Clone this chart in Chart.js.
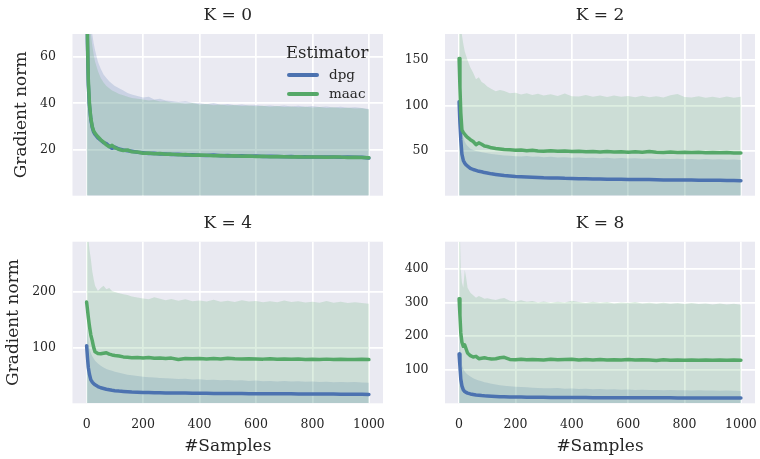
<!DOCTYPE html>
<html>
<head>
<meta charset="utf-8">
<script src="https://cdn.jsdelivr.net/npm/chart.js@4.4.1/dist/chart.umd.min.js"></script>
<style>
  body { margin: 0; background: #fff; }
  #wrap { position: relative; width: 760px; height: 459px; font-family: 'DejaVu Serif', serif; color: #262626; }
  #wrap canvas { position: absolute; }
  .legend-title { position: absolute; left: 286px; top: 43px; font-size: 16.5px; line-height: 20px; }
  .legend-line { position: absolute; left: 287px; width: 32px; height: 4px; border-radius: 2px; }
  .legend-label { position: absolute; left: 329px; font-size: 13.5px; line-height: 16px; }
</style>
</head>
<body>
<div id="wrap">
  <canvas id="k0" width="390" height="205" style="left:0;top:0"></canvas>
  <canvas id="k2" width="370" height="205" style="left:390px;top:0"></canvas>
  <canvas id="k4" width="390" height="254" style="left:0;top:205px"></canvas>
  <canvas id="k8" width="370" height="254" style="left:390px;top:205px"></canvas>

  <div class="legend-title">Estimator</div>
  <div class="legend-line" style="top:73px;background:#4C72B0"></div>
  <div class="legend-label" style="top:66px">dpg</div>
  <div class="legend-line" style="top:92px;background:#55A868"></div>
  <div class="legend-label" style="top:85px">maac</div>
</div>
<script>
// x positions (number of samples) shared by all series
var samples = [0, 3, 6, 10, 15, 20, 25, 30,
  40, 50, 60, 70, 80, 90, 100,
  115, 130, 145, 160,
  180, 200, 220, 240, 260, 280, 300,
  325, 350, 375, 400, 425, 450, 475, 500, 525, 550, 575, 600, 625, 650,
  675, 700, 725, 750, 775, 800, 825, 850, 875, 900, 925, 950, 975, 1000];
var xTicks = [0, 200, 400, 600, 800, 1000];

// K = 0
var k0DpgMean = [105, 66, 48, 39, 33, 29.5, 27.5, 26.5,
  25, 24, 23, 22.5, 21.5, 20.5, 21,
  20.2, 19.8, 19.5, 19.2,
  18.8, 18.6, 18.3, 18.4, 18.0, 18.1, 17.8,
  17.9, 17.6, 17.7, 17.5, 17.4, 17.6, 17.3, 17.4, 17.2, 17.3, 17.1, 17.2, 17.0, 17.1,
  17.0, 16.9, 17.0, 16.8, 16.9, 16.8, 16.7, 16.8, 16.7, 16.6, 16.7, 16.6, 16.6, 16.3];
var k0MaacMean = [110, 68, 50, 40, 33.5, 30, 28, 27,
  25.5, 24.2, 23.2, 22, 21.2, 21.8, 20.8,
  20.0, 19.6, 19.8, 19.0,
  18.9, 18.4, 18.5, 18.2, 18.3, 17.9, 18.0,
  17.7, 17.8, 17.5, 17.6, 17.5, 17.3, 17.4, 17.2, 17.3, 17.1, 17.2, 17.0, 17.1, 16.9,
  17.0, 16.9, 16.8, 16.9, 16.7, 16.8, 16.8, 16.6, 16.7, 16.7, 16.5, 16.6, 16.5, 16.4];
var k0DpgUpper = [160, 120, 100, 88, 78, 70, 66, 63,
  58, 55, 52.5, 51, 49.5, 48.5, 47.5,
  46.5, 45.5, 44.5, 43.8,
  43.2, 42.5, 42.8, 41.6, 42.0, 41.2, 41.0,
  40.6, 40.9, 40.2, 40.0, 39.6, 40.1, 39.4, 39.7, 39.2, 39.5, 39.0, 39.3, 38.8, 39.1,
  38.7, 39.0, 38.6, 38.9, 38.5, 38.8, 38.4, 38.6, 38.2, 38.5, 38.1, 38.3, 38.0, 37.5];
var k0MaacUpper = [150, 110, 92, 80, 70, 65, 61, 58,
  54, 51, 49, 47.5, 46.5, 45.5, 45,
  44, 43.5, 42.8, 42.3,
  42.0, 41.6, 41.2, 41.4, 40.8, 40.9, 40.4,
  40.2, 39.8, 40.1, 39.5, 39.7, 39.2, 39.5, 39.0, 39.3, 38.8, 39.1, 38.7, 38.9, 38.5,
  38.8, 38.4, 38.6, 38.3, 38.5, 38.2, 38.4, 38.0, 38.3, 37.9, 38.1, 37.8, 37.9, 37.3];

// K = 2
var k2DpgMean = [104, 80, 62, 46, 39, 36, 34, 32.8,
  30.3, 29, 28, 27, 26.5, 25.6, 25.2,
  24.2, 23.5, 22.9, 22.3,
  21.7, 21.2, 20.9, 20.6, 20.4, 20.1, 19.8,
  19.6, 19.5, 19.2, 19.1, 18.9, 18.8, 18.6, 18.5, 18.3, 18.2, 18.1, 18.0, 17.9, 17.8,
  17.8, 17.6, 17.5, 17.5, 17.4, 17.3, 17.3, 17.2, 17.1, 17.1, 17.0, 16.9, 16.9, 16.6];
var k2MaacMean = [152, 120, 92, 73, 70, 68, 66, 64.5,
  62, 60, 56.5, 58.5, 57, 55, 54.5,
  53, 52.3, 51.8, 51.2,
  50.8, 50.3, 50.6, 49.8, 50.2, 49.6, 49.3,
  49.7, 49.1, 49.4, 48.8, 49.2, 48.7, 49.0, 48.5, 48.8, 48.3, 48.7, 48.2, 48.6, 48.1,
  48.9, 48.2, 47.9, 48.4, 47.8, 48.1, 47.7, 48.0, 47.6, 47.9, 47.5, 47.8, 47.4, 47.3];
var k2DpgUpper = [150, 120, 95, 75, 65, 60, 57, 55,
  52, 50.5, 49.5, 48.8, 48, 47.5, 47,
  46.2, 45.6, 45, 44.6,
  44.2, 43.8, 43.5, 43.9, 43.0, 43.4, 42.6,
  43.0, 42.3, 42.7, 42.0, 42.4, 41.8, 42.1, 41.5, 41.9, 41.3, 41.6, 41.1, 41.4, 40.9,
  41.2, 40.7, 41.0, 40.5, 40.8, 40.4, 40.7, 40.2, 40.5, 40.1, 40.3, 39.9, 40.2, 39.5];
var k2MaacUpper = [260, 230, 200, 178, 168, 160, 155, 150,
  142, 136, 129, 131, 126, 124, 121,
  118, 115.5, 117, 116,
  113.5, 114, 112, 113.5, 111.5, 112.8, 110.8,
  112.2, 110.5, 113, 110.2, 109.8, 111.5, 109.5, 110.8, 109.2, 111.0, 109.4, 110.3, 108.9, 110.6,
  109.1, 110.0, 108.7, 111.2, 112.5, 109.3, 108.6, 110.1, 108.4, 109.5, 108.2, 109.8, 108.5, 109.6];

// K = 4
var k4DpgMean = [103, 82, 64, 52, 42, 38, 35, 33,
  30, 27.8, 26.5, 25.2, 24.2, 23.3, 22.6,
  21.8, 21.2, 20.7, 20.2,
  19.8, 19.5, 19.2, 19.0, 18.8, 18.6, 18.5,
  18.3, 18.2, 18.0, 17.9, 17.8, 17.7, 17.6, 17.5, 17.5, 17.4, 17.3, 17.2, 17.2, 17.1,
  17.0, 17.0, 16.9, 16.8, 16.8, 16.7, 16.6, 16.6, 16.5, 16.4, 16.3, 16.2, 16.1, 15.8];
var k4MaacMean = [181, 168, 154, 138, 122, 112, 100, 92,
  89, 88.5, 89.5, 90.5, 88, 86.5, 85.5,
  84.5, 83, 82.2, 81.5,
  81.8, 81.0, 82.0, 80.6, 81.2, 80.2, 80.8,
  78.5, 80.3, 79.6, 80.0, 79.4, 80.2, 79.2, 80.5, 79.6, 79.1, 79.8, 79.3, 79.0, 79.7,
  78.8, 79.4, 78.7, 79.2, 78.5, 78.9, 78.4, 79.0, 78.3, 78.7, 78.5, 78.2, 78.6, 78.2];
var k4DpgUpper = [150, 130, 112, 98, 90, 84, 80, 76,
  71, 67, 64, 61.5, 59.5, 58, 56.5,
  54.5, 52.8, 51.2, 50,
  48.6, 47.5, 46.6, 46.0, 45.3, 44.8, 44.3,
  43.6, 43.9, 42.6, 43.0, 41.8, 42.3, 41.1, 41.6, 40.6, 41.0, 40.1, 40.6, 39.6, 40.0,
  39.2, 39.7, 38.8, 39.3, 38.5, 38.9, 38.1, 38.6, 37.8, 38.2, 37.5, 37.9, 37.1, 36.8];
var k4MaacUpper = [330, 310, 295, 275, 258, 236, 222, 210,
  201, 206, 210, 204, 206, 201, 199,
  197, 195, 193.5, 191,
  189, 187.5, 186, 189.5, 187, 184.5, 186.5,
  183.5, 186, 182.5, 184, 182, 185, 181.5, 183.5, 181, 184.5, 182, 183, 180.8, 182.6,
  180.5, 184, 181, 182.3, 180.2, 181.8, 179.8, 183, 180, 181.5, 179.5, 180.8, 179.2, 178];

// K = 8
var k8DpgMean = [147, 110, 72, 52, 40, 35, 32.5, 30.5,
  28, 26.5, 25, 24, 23, 22.3, 21.8,
  21.0, 20.4, 19.9, 19.5,
  19.1, 18.8, 18.5, 18.3, 18.1, 17.9, 17.7,
  17.6, 17.4, 17.3, 17.2, 17.1, 17.0, 16.9, 16.8, 16.7, 16.7, 16.6, 16.5, 16.5, 16.4,
  16.3, 16.3, 16.2, 16.2, 16.1, 16.0, 16.0, 15.9, 15.9, 15.8, 15.8, 15.7, 15.7, 15.5];
var k8MaacMean = [312, 262, 210, 182, 170, 174, 162, 150,
  142, 138, 140, 133, 134.5, 136, 134,
  132, 133, 136, 137,
  131, 130, 131.5, 129.8, 131, 130.2, 129.5,
  131.2, 129.8, 130.5, 131.5, 129.2, 130.6, 129.5, 130.8, 129.0, 130.2, 129.4, 130.5, 128.8, 129.9,
  129.1, 127.8, 129.6, 128.7, 129.5, 128.5, 129.2, 128.4, 129.3, 128.6, 128.9, 128.2, 129.0, 128.3];
var k8DpgUpper = [220, 180, 140, 115, 102, 95, 90, 86,
  80, 75, 71, 68, 65.5, 63, 61,
  58.5, 56, 54, 52.5,
  51, 49.5, 48.3, 47.6, 46.6, 46.0, 45.2,
  44.6, 45.3, 43.4, 44.0, 42.5, 43.1, 41.7, 42.4, 41.0, 41.7, 40.4, 41.1, 39.9, 40.5,
  39.4, 40.0, 39.0, 39.6, 38.6, 39.2, 38.2, 38.9, 37.9, 38.5, 37.6, 38.2, 37.2, 37.0];
var k8MaacUpper = [560, 500, 400, 360, 345, 398, 375, 345,
  330, 322, 315, 320, 316, 312, 313,
  310, 308, 312, 314,
  306, 304, 307, 303, 305, 301, 304,
  300, 303, 301, 306, 302, 299, 303, 300, 302, 298, 301, 299, 302, 298,
  300, 297, 300, 297, 299, 296, 299, 296, 298, 295, 298, 295, 297, 294];

var BLUE = '#4C72B0';
var GREEN = '#55A868';
var INK = '#262626';
var SERIF = "'DejaVu Serif', serif";

// grey panel background like seaborn darkgrid
var panelBg = {
  id: 'panelBg',
  beforeDraw: function(chart) {
    var a = chart.chartArea;
    var ctx = chart.ctx;
    ctx.save();
    ctx.fillStyle = '#EAEAF2';
    ctx.fillRect(a.left, a.top, a.right - a.left, a.bottom - a.top);
    ctx.restore();
  }
};

function pts(ys) {
  return samples.map(function(x, i) { return {x: x, y: ys[i]}; });
}

function makePanel(id, p) {
  var bottomRow = p.bottomRow;
  var leftCol = p.leftCol;
  new Chart(document.getElementById(id), {
    type: 'line',
    data: {
      datasets: [
        {label: 'maac', data: pts(p.maac), borderColor: GREEN, borderWidth: 3.5, pointRadius: 0, fill: false,
         borderCapStyle: 'round', borderJoinStyle: 'round'},
        {label: 'dpg', data: pts(p.dpg), borderColor: BLUE, borderWidth: 3.5, pointRadius: 0, fill: false,
         borderCapStyle: 'round', borderJoinStyle: 'round'},
        {label: 'maac band', data: pts(p.maacUp), borderColor: 'transparent', borderWidth: 0, pointRadius: 0,
         backgroundColor: 'rgba(85,168,104,0.2)', fill: 'start'},
        {label: 'dpg band', data: pts(p.dpgUp), borderColor: 'transparent', borderWidth: 0, pointRadius: 0,
         backgroundColor: 'rgba(76,114,176,0.2)', fill: 'start'}
      ]
    },
    options: {
      responsive: false,
      animation: false,
      layout: { padding: { right: p.padRight } },
      plugins: {
        legend: { display: false },
        tooltip: { enabled: false },
        title: {
          display: true, text: p.title, fullSize: false, color: INK,
          font: { family: SERIF, size: 17, weight: 'normal' },
          padding: { top: p.titleTop, bottom: p.titleBottom }
        }
      },
      scales: {
        x: {
          type: 'linear', min: -50, max: 1050,
          afterBuildTicks: function(s) { s.ticks = xTicks.map(function(v) { return {value: v}; }); },
          afterFit: function(s) { s.height = p.xHeight; s.paddingLeft = 0; s.paddingRight = 0; },
          grid: { color: '#ffffff', lineWidth: 1.7, drawTicks: false },
          border: { display: false },
          ticks: {
            display: bottomRow, padding: 13.5, color: INK, autoSkip: false, maxRotation: 0,
            font: { family: SERIF, size: 12.5 },
            callback: function(v) { return String(v); }
          },
          title: {
            display: bottomRow, text: '#Samples', color: INK,
            font: { family: SERIF, size: 17 },
            padding: { top: 0, bottom: 2.5 }
          }
        },
        y: {
          min: 0, max: p.yMax,
          afterBuildTicks: function(s) { s.ticks = p.yTicks.map(function(v) { return {value: v}; }); },
          afterFit: function(s) { s.width = p.yWidth; s.paddingTop = 0; s.paddingBottom = 0; },
          grid: { color: '#ffffff', lineWidth: 1.7, drawTicks: false },
          border: { display: false },
          ticks: {
            padding: 16.5, color: INK,
            font: { family: SERIF, size: 12.5 },
            callback: function(v) { return String(v); }
          },
          title: {
            display: leftCol, text: 'Gradient norm', color: INK,
            font: { family: SERIF, size: 17 },
            padding: { top: p.yTitlePad, bottom: 0 }
          }
        }
      }
    },
    plugins: [panelBg]
  });
}

makePanel('k0', {title: 'K = 0', dpg: k0DpgMean, maac: k0MaacMean, dpgUp: k0DpgUpper, maacUp: k0MaacUpper,
  yMax: 70, yTicks: [20, 40, 60], yWidth: 72.5, padRight: 7, xHeight: 9.3,
  titleTop: 5.3, titleBottom: 8.3, yTitlePad: 11.5, leftCol: true, bottomRow: false});
makePanel('k2', {title: 'K = 2', dpg: k2DpgMean, maac: k2MaacMean, dpgUp: k2DpgUpper, maacUp: k2MaacUpper,
  yMax: 179, yTicks: [50, 100, 150], yWidth: 55, padRight: 5, xHeight: 9.3,
  titleTop: 5.3, titleBottom: 8.3, yTitlePad: 0, leftCol: false, bottomRow: false});
makePanel('k4', {title: 'K = 4', dpg: k4DpgMean, maac: k4MaacMean, dpgUp: k4DpgUpper, maacUp: k4MaacUpper,
  yMax: 289, yTicks: [100, 200], yWidth: 72.5, padRight: 7, xHeight: 55.7,
  titleTop: 8.1, titleBottom: 8.2, yTitlePad: 3.1, leftCol: true, bottomRow: true});
makePanel('k8', {title: 'K = 8', dpg: k8DpgMean, maac: k8MaacMean, dpgUp: k8DpgUpper, maacUp: k8MaacUpper,
  yMax: 482, yTicks: [100, 200, 300, 400], yWidth: 55, padRight: 5, xHeight: 55.7,
  titleTop: 8.1, titleBottom: 8.2, yTitlePad: 0, leftCol: false, bottomRow: true});
</script>
</body>
</html>
